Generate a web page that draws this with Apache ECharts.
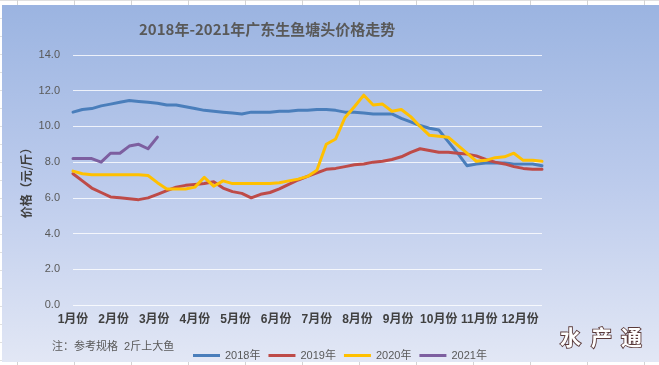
<!DOCTYPE html>
<html>
<head>
<meta charset="utf-8">
<script src="https://cdn.jsdelivr.net/npm/echarts@6/dist/echarts.min.js"></script>
<style>
html,body{margin:0;padding:0;width:659px;height:365px;overflow:hidden;
background-color:#fff;
background-image:linear-gradient(to right,#d4d4d4 1px,transparent 1px),linear-gradient(to bottom,#e0e0e0 1px,transparent 1px);
background-size:57px 18px;background-position:17px 0;}
#c{position:absolute;left:2px;top:5px;width:657px;height:357px;}
</style>
</head>
<body>
<div id="c"></div>
<script>
// category (weekly points) and month tick labels
const weeks = Array.from({length: 51}, (_, i) => String(i + 1));
const monthLabels = ['1月份','2月份','3月份','4月份','5月份','6月份','7月份','8月份','9月份','10月份','11月份','12月份'];
const yTicks = [0, 2, 4, 6, 8, 10, 12, 14];
const seriesNames = ['2018年','2019年','2020年','2021年'];

const y2018 = [10.8,10.95,11.0,11.15,11.25,11.35,11.45,11.4,11.35,11.3,11.2,11.2,11.1,11.0,10.9,10.85,10.8,10.75,10.7,10.8,10.8,10.8,10.85,10.85,10.9,10.9,10.95,10.95,10.9,10.8,10.8,10.75,10.7,10.7,10.7,10.45,10.25,10.05,9.9,9.8,9.15,8.5,7.8,7.9,7.95,7.95,7.95,7.9,7.9,7.9,7.8];
const y2019 = [7.35,6.95,6.55,6.3,6.05,6.0,5.95,5.9,6.0,6.2,6.4,6.6,6.7,6.75,6.8,6.9,6.55,6.35,6.25,6.0,6.2,6.3,6.5,6.75,7.0,7.2,7.4,7.6,7.65,7.75,7.85,7.9,8.0,8.05,8.15,8.3,8.55,8.75,8.65,8.55,8.55,8.5,8.45,8.35,8.15,8.0,7.9,7.75,7.65,7.6,7.6];
const y2020 = [7.5,7.35,7.3,7.3,7.3,7.3,7.3,7.3,7.25,6.85,6.5,6.5,6.5,6.6,7.15,6.65,6.95,6.8,6.8,6.8,6.8,6.8,6.85,6.95,7.05,7.2,7.55,9.0,9.3,10.5,11.1,11.75,11.2,11.25,10.85,10.95,10.55,10.0,9.5,9.45,9.4,8.95,8.5,8.05,8.1,8.25,8.3,8.5,8.1,8.1,8.05];
const y2021 = [8.2,8.2,8.2,8.0,8.5,8.5,8.9,9.0,8.75,9.4];

const colors = ['#4a7ebb','#be4b48','#ffc000','#7d5fa0'];
const FONT = '"Liberation Sans","Noto Sans CJK SC",sans-serif';
const CJK = '"Noto Sans CJK SC",sans-serif';

const chart = echarts.init(document.getElementById('c'), null, {renderer:'canvas'});
const mk = (name, data, color) => ({
  name, type:'line', data, xAxisIndex:0, yAxisIndex:0,
  showSymbol:false, symbol:'none', smooth:false,
  lineStyle:{color, width:3, cap:'round', join:'round'}, itemStyle:{color},
  animation:false
});
const wm = (ch, x) => ({type:'text', left:x, top:321, style:{text:ch, fontFamily:CJK, fontSize:21, fontWeight:'bold',
  fill:'#ffffff', stroke:'#5a3a3a', lineWidth:1.8, shadowColor:'rgba(60,30,30,0.5)', shadowBlur:2, shadowOffsetX:1, shadowOffsetY:1}});
chart.setOption({
  animation:false,
  backgroundColor:{type:'linear',x:0,y:0,x2:0,y2:1,colorStops:[
    {offset:0,color:'#9bb4e1'},{offset:0.5,color:'#bccbec'},{offset:1,color:'#e2e7f5'}]},
  title:{text:'2018年-2021年广东生鱼塘头价格走势', left:137, top:17, padding:0,
    textStyle:{fontFamily:CJK, fontSize:15, fontWeight:'bold', color:'#595959'}},
  grid:{left:71, right:117, top:50, bottom:57, containLabel:false},
  legend:{data:seriesNames, left:186, top:340, itemWidth:27, itemHeight:3, itemGap:8, icon:'rect',
    textStyle:{fontFamily:FONT, fontSize:11, color:'#595959'}},
  xAxis:[
    {type:'category', data:weeks, boundaryGap:false, show:false},
    {type:'value', min:0, max:11.54, interval:1, position:'bottom',
      axisLine:{show:false}, axisTick:{show:false}, splitLine:{show:false},
      axisLabel:{margin:9, fontFamily:FONT, fontSize:12, fontWeight:'bold', color:'#404040',
        formatter:v => (Number.isInteger(v) && monthLabels[v]) ? monthLabels[v] : ''}}
  ],
  yAxis:{type:'value', min:yTicks[0], max:yTicks[yTicks.length-1], interval:2,
    name:'价格（元/斤）', nameLocation:'middle', nameRotate:90, nameGap:41, nameMoveOverlap:false,
    nameTextStyle:{fontFamily:CJK, fontSize:12, fontWeight:'bold', color:'#404040'},
    axisLine:{show:false}, axisTick:{show:false},
    axisLabel:{margin:13, fontFamily:FONT, fontSize:11, color:'#595959', formatter:v=>v.toFixed(1)},
    splitLine:{lineStyle:{color:'rgba(255,255,255,0.8)', width:1}}},
  series:[mk(seriesNames[0],y2018,colors[0]), mk(seriesNames[1],y2019,colors[1]), mk(seriesNames[2],y2020,colors[2]), mk(seriesNames[3],y2021,colors[3])],
  graphic:[
    {type:'text', left:50, top:336, style:{text:'注：参考规格  2斤上大鱼', fontFamily:FONT, fontSize:11, fill:'#595959'}},
    wm('水', 557), wm('产', 588), wm('通', 618)
  ]
});
</script>
</body>
</html>
